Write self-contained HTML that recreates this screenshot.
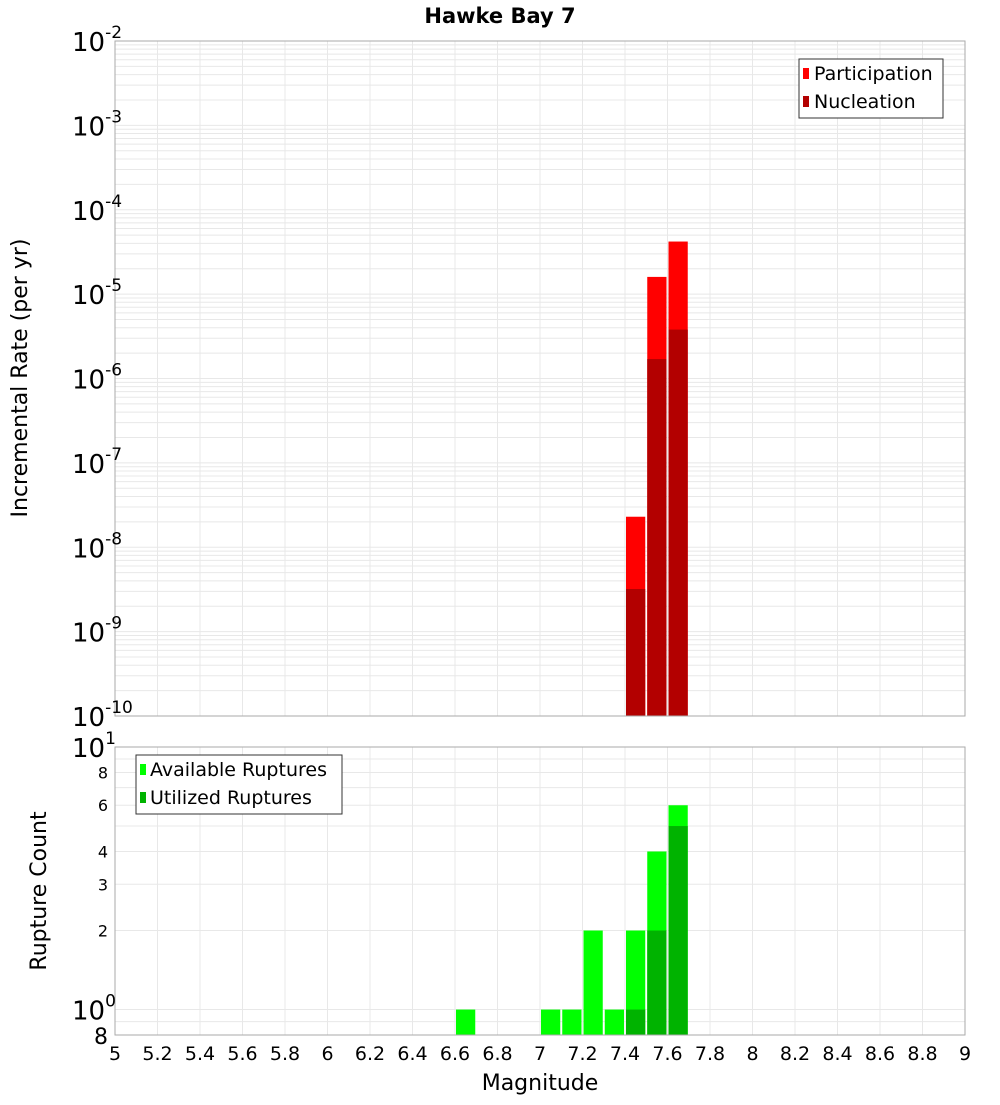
<!DOCTYPE html>
<html><head><meta charset="utf-8">
<style>
body{margin:0;background:#fff;font-family:"Liberation Sans","DejaVu Sans",sans-serif}
svg text{font-family:"DejaVu Sans","Liberation Sans",sans-serif}
</style></head>
<body>
<svg id="chart" width="1000" height="1100" xmlns="http://www.w3.org/2000/svg">
<text x="500" y="23" text-anchor="middle" font-size="21" font-weight="bold">Hawke Bay 7</text>
<g id="topPanel"></g><g id="botPanel"></g>
<text transform="translate(27,378) rotate(-90)" text-anchor="middle" font-size="22">Incremental Rate (per yr)</text>
<text transform="translate(46,891) rotate(-90)" text-anchor="middle" font-size="22">Rupture Count</text>
<text x="540" y="1090" text-anchor="middle" font-size="22">Magnitude</text>
</svg>
<script>
const binCenters=[7.45,7.55,7.65];
const participation=[2.3e-8,1.6e-5,4.2e-5];
const nucleation=[3.2e-9,1.7e-6,3.8e-6];
const countCenters=[6.65,7.05,7.15,7.25,7.35,7.45,7.55,7.65];
const available=[1,1,1,2,1,2,4,6];
const utilizedCenters=[7.45,7.55,7.65];
const utilized=[1,2,5];
const xTicks=[5,5.2,5.4,5.6,5.8,6,6.2,6.4,6.6,6.8,7,7.2,7.4,7.6,7.8,8,8.2,8.4,8.6,8.8,9];
const topDecades=[-10,-9,-8,-7,-6,-5,-4,-3,-2];
const botTickVals=[2,3,4,6,8];

const NS="http://www.w3.org/2000/svg";
const L=115,R=965;
const x=m=>L+(m-5)/4*(R-L);
const T0=41,T1=716;
const yT=v=>T0+(-2-Math.log10(v))/8*(T1-T0);
const B0=747,B1=1035;
const yB=v=>B0+(1-Math.log10(v))/(1-Math.log10(0.8))*(B1-B0);
function el(p,t,a,txt){const e=document.createElementNS(NS,t);for(const k in a)e.setAttribute(k,a[k]);if(txt!==undefined)e.textContent=txt;p.appendChild(e);return e;}
const gTop=document.getElementById('topPanel'),gBot=document.getElementById('botPanel');

for(let d=-10;d<-2;d++)for(let k=1;k<10;k++){const v=k*Math.pow(10,d);const g=el(gTop,'line',{x1:L,x2:R,y1:yT(v),y2:yT(v),stroke:'#e8e8e8','stroke-width':1});

}
xTicks.forEach(m=>{const g=el(gTop,'line',{x1:x(m),x2:x(m),y1:T0,y2:T1,stroke:'#e8e8e8'});


const h=el(gBot,'line',{x1:x(m),x2:x(m),y1:B0,y2:B1,stroke:'#e8e8e8'});

});
const bw=(x(5.1)-x(5))-2;
binCenters.forEach((c,i)=>{
 const b=el(gTop,'rect',{x:x(c)-bw/2,y:yT(participation[i]),width:bw,height:T1-yT(participation[i]),fill:'#ff0000'});
 
 
 const n=el(gTop,'rect',{x:x(c)-bw/2,y:yT(nucleation[i]),width:bw,height:T1-yT(nucleation[i]),fill:'#b30000'});
 
 
});
el(gTop,'rect',{x:L,y:T0,width:R-L,height:T1-T0,fill:'none',stroke:'#aaa'});
topDecades.forEach(d=>{const t=el(gTop,'text',{x:72,y:yT(Math.pow(10,d))+10,'font-size':26});


t.textContent='10';el(t,'tspan',{dy:-13,'font-size':17},String(d));});
const lg=el(gTop,'g',{});


el(lg,'rect',{x:799,y:59,width:144,height:59,fill:'#fff',stroke:'#333'});
el(lg,'rect',{x:803,y:68,width:6,height:11,fill:'#ff0000'});
el(lg,'text',{x:814,y:80,'font-size':19},'Participation');
el(lg,'rect',{x:803,y:96,width:6,height:11,fill:'#b30000'});
el(lg,'text',{x:814,y:108,'font-size':19},'Nucleation');

[0.8,0.9,1,2,3,4,5,6,7,8,9,10].forEach(v=>{const g=el(gBot,'line',{x1:L,x2:R,y1:yB(v),y2:yB(v),stroke:'#e8e8e8'});

});
countCenters.forEach((c,i)=>{const b=el(gBot,'rect',{x:x(c)-bw/2,y:yB(available[i]),width:bw,height:B1-yB(available[i]),fill:'#00ff00'});

});
utilizedCenters.forEach((c,i)=>{const b=el(gBot,'rect',{x:x(c)-bw/2,y:yB(utilized[i]),width:bw,height:B1-yB(utilized[i]),fill:'#00b300'});

});
el(gBot,'rect',{x:L,y:B0,width:R-L,height:B1-B0,fill:'none',stroke:'#aaa'});
botTickVals.forEach(v=>{const t=el(gBot,'text',{x:108,y:yB(v)+6,'font-size':16,'text-anchor':'end'},String(v));

});
[[10,'1'],[1,'0']].forEach(([v,e])=>{const t=el(gBot,'text',{x:72,y:yB(v)+10,'font-size':26});


t.textContent='10';el(t,'tspan',{dy:-13,'font-size':17},e);});
{const t=el(gBot,'text',{x:108,y:1044,'font-size':22,'text-anchor':'end'},'8');

}
xTicks.forEach(m=>{const t=el(gBot,'text',{x:x(m),y:1060,'font-size':19,'text-anchor':'middle'},String(m));

});
const lb=el(gBot,'g',{});


el(lb,'rect',{x:136,y:755,width:206,height:59,fill:'#fff',stroke:'#333'});
el(lb,'rect',{x:140,y:764,width:6,height:11,fill:'#00ff00'});
el(lb,'text',{x:150,y:776,'font-size':19},'Available Ruptures');
el(lb,'rect',{x:140,y:792,width:6,height:11,fill:'#00b300'});
el(lb,'text',{x:150,y:804,'font-size':19},'Utilized Ruptures');
</script>
</body></html>
